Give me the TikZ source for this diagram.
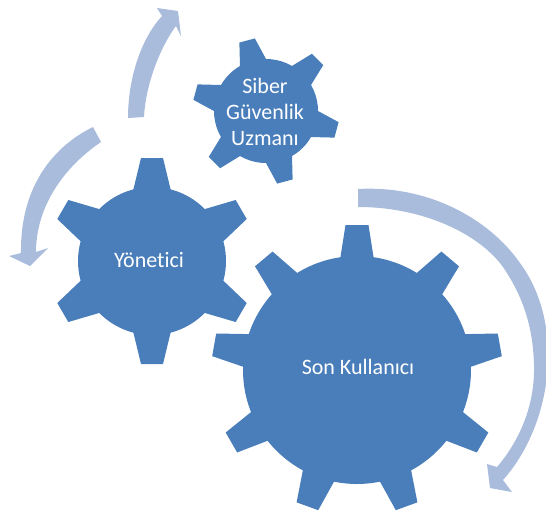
\documentclass[tikz,border=0pt]{standalone}
\usepackage{fontspec}
\setmainfont[Ligatures=NoCommon]{Carlito}
\definecolor{gearblue}{HTML}{4A7EBB}
\definecolor{arrowblue}{HTML}{A9BCDC}
\tikzset{
  x=0.75pt,y=-0.75pt,
  geartext/.style={text=white,font=\fontsize{16.5}{19.5}\selectfont,align=center,inner sep=0pt},
  cyclearrow/.style={fill=arrowblue,draw=none},
}
% cx cy rbody rtip halfTip halfBase n start
\newcommand{\gearshape}[8]{%
  \fill[gearblue] (#1,#2) circle[radius=#3*0.75pt];
  \pgfmathsetmacro{\stepang}{360/#7}
  \foreach \k in {1,...,#7}{
    \pgfmathsetmacro{\ang}{#8+(\k-1)*\stepang}
    \begin{scope}[shift={(#1,#2)},rotate=\ang]
      \fill[gearblue] (#3-4,-#6) -- (#4,-#5) -- (#4,#5) -- (#3-4,#6) -- cycle;
    \end{scope}
  }
}
\begin{document}
\begin{tikzpicture}
\useasboundingbox (0,0) rectangle (546,512);
% arrows
\clip (0,0) rectangle (546,512);
\fill[cyclearrow] (358,189)
  .. controls (430,185) and (490,220) .. (520,263)
  .. controls (540,290) and (549,325) .. (548,360)
  .. controls (547,405) and (530,450) .. (503,480)
  -- (512,492) -- (490,488) -- (487,464) -- (497,467)
  .. controls (520,440) and (535,405) .. (534,365)
  .. controls (533,325) and (522,295) .. (503,267)
  .. controls (480,235) and (425,207) .. (358,207) -- cycle;
\fill[cyclearrow] (93,127) .. controls (60,143) and (20,180) .. (21,253)
  -- (9,256) -- (30,266) -- (48,248) -- (36,252)
  .. controls (36,210) and (60,170) .. (101,142) -- cycle;
\fill[cyclearrow] (128,118) .. controls (128,80) and (140,40) .. (162,16)
  -- (157,8) -- (178,11) -- (181,36) -- (176,26)
  .. controls (163,43) and (146,80) .. (144,117) -- cycle;
% gears
\gearshape{357}{370}{114}{145}{11.5}{17}{9}{90}
\gearshape{152}{261}{74}{103}{11}{19}{6}{90}
\gearshape{266}{111}{52}{73}{8}{14}{6}{105}
\node[geartext] (uzman) at (265,112) {Siber\\Güvenlik\\Uzmanı};
\node[geartext] (yonetici) at (149,260) {Yönetici};
\node[geartext] (son) at (358,367) {Son Kullanıcı};
\end{tikzpicture}
\end{document}
